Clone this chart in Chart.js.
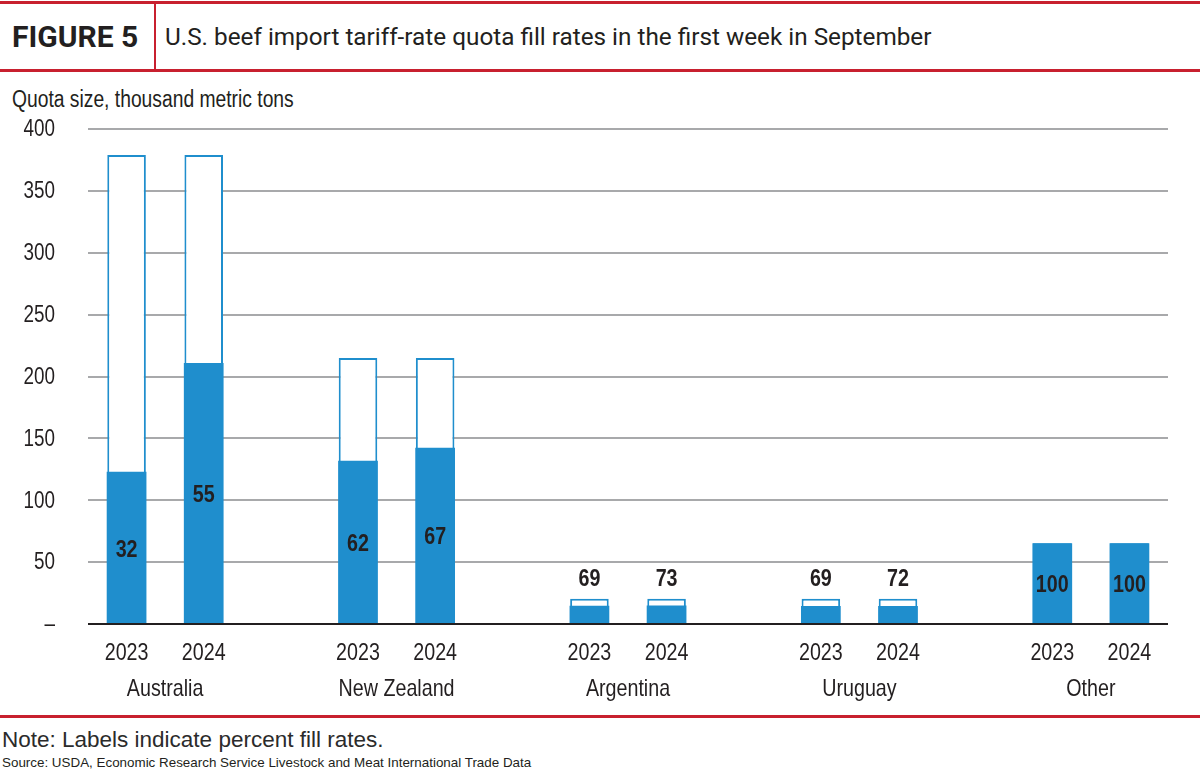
<!DOCTYPE html>
<html><head><meta charset="utf-8">
<script src="https://cdn.jsdelivr.net/npm/chart.js@4.4.1/dist/chart.umd.min.js"></script>
<style>
html,body{margin:0;padding:0;background:#fff;width:1200px;height:774px;overflow:hidden;position:relative;}
.rl{position:absolute;background:#c8202f;}
#hdrTop{left:0;top:1px;width:1200px;height:3px;}
#hdrBot{left:0;top:69px;width:1200px;height:3px;}
#hdrV{left:154px;top:1px;width:2px;height:71px;}
#footLine{left:0;top:715px;width:1200px;height:3px;}
#fig{position:absolute;left:12px;top:19px;font:bold 30px Roboto,sans-serif;color:#231f20;white-space:nowrap;}
#title{position:absolute;left:165px;top:22px;font:24.3px Roboto,sans-serif;color:#231f20;white-space:nowrap;}
#ytitle{position:absolute;left:12px;top:86px;font:23.5px 'Liberation Sans',sans-serif;color:#231f20;white-space:nowrap;transform:scaleX(0.82);transform-origin:0 0;}
#note{position:absolute;left:2px;top:727px;font:22.5px 'Liberation Sans',sans-serif;color:#2b2b2b;white-space:nowrap;}
#source{position:absolute;left:2px;top:755px;font:13.4px 'Liberation Sans',sans-serif;color:#231f20;white-space:nowrap;}
#wrap{position:absolute;left:0;top:80px;width:1200px;height:634px;}
</style>
</head>
<body>
<div class="rl" id="hdrTop"></div>
<div class="rl" id="hdrBot"></div>
<div class="rl" id="hdrV"></div>
<div id="fig">FIGURE 5</div>
<div id="title">U.S. beef import tariff-rate quota fill rates in the first week in September</div>
<div id="ytitle">Quota size, thousand metric tons</div>
<div id="wrap"><canvas id="c"></canvas></div>
<div class="rl" id="footLine"></div>
<div id="note">Note: Labels indicate percent fill rates.</div>
<div id="source">Source: USDA, Economic Research Service Livestock and Meat International Trade Data</div>
<script>
// ---- data ----
const countries = ['Australia', 'New Zealand', 'Argentina', 'Uruguay', 'Other'];
const years = ['2023', '2024'];
const quota2023 = [379, 215, 20.5, 20.5, 65.2];
const quota2024 = [379, 215, 20.5, 20.5, 65.2];
const filled2023 = [123, 132, 14.8, 14.5, 65.2];
const filled2024 = [211, 142.5, 15, 14.5, 65.2];
const fillRate2023 = [32, 62, 69, 69, 100];
const fillRate2024 = [55, 67, 73, 72, 100];
const yTicks = [0, 50, 100, 150, 200, 250, 300, 350, 400];

// ---- build slot arrays (two bars per country, blank spacer between groups) ----
const slotLabels = [], quotaSlots = [], filledSlots = [], rateSlots = [];
countries.forEach((c, g) => {
  slotLabels.push(years[0], years[1]);
  quotaSlots.push(quota2023[g], quota2024[g]);
  filledSlots.push(filled2023[g], filled2024[g]);
  rateSlots.push(fillRate2023[g], fillRate2024[g]);
  if (g < countries.length - 1) {
    slotLabels.push(''); quotaSlots.push(null); filledSlots.push(null); rateSlots.push(null);
  }
});

const BLUE = '#1f8ecd';
const DARK = '#231f20';
const FONT = "'Liberation Sans',Arial,sans-serif";
const SQUEEZE = 0.82; // emulate a narrow face

function narrowText(ctx, text, x, y, align, baseline) {
  ctx.save();
  ctx.translate(x, y);
  ctx.scale(SQUEEZE, 1);
  ctx.textAlign = align;
  ctx.textBaseline = baseline;
  ctx.fillText(text, 0, 0);
  ctx.restore();
}

const labelPlugin = {
  id: 'labels',
  afterDatasetsDraw(chart) {
    const ctx = chart.ctx;
    const x = chart.scales.x, y = chart.scales.y;
    const area = chart.chartArea;
    ctx.save();
    // zero line
    ctx.strokeStyle = DARK; ctx.lineWidth = 2;
    ctx.beginPath();
    ctx.moveTo(area.left, y.getPixelForValue(0));
    ctx.lineTo(area.right, y.getPixelForValue(0));
    ctx.stroke();
    ctx.fillStyle = DARK;
    // y tick labels
    ctx.font = '23px ' + FONT;
    yTicks.forEach(v => {
      narrowText(ctx, v === 0 ? '–' : String(v), 55, y.getPixelForValue(v) + 1, 'right', 'middle');
    });
    // x tick labels (years)
    ctx.font = '24px ' + FONT;
    slotLabels.forEach((l, i) => {
      if (l) narrowText(ctx, l, x.getPixelForValue(i), 573, 'center', 'middle');
    });
    // country names
    countries.forEach((c, g) => {
      const a = x.getPixelForValue(g * 3), b = x.getPixelForValue(g * 3 + 1);
      narrowText(ctx, c, (a + b) / 2, 609, 'center', 'middle');
    });
    // fill-rate labels
    ctx.font = 'bold 24px ' + FONT;
    rateSlots.forEach((r, i) => {
      if (r === null) return;
      const px = x.getPixelForValue(i);
      if (quotaSlots[i] < 40) {
        narrowText(ctx, String(r), px, y.getPixelForValue(quotaSlots[i]) - 13, 'center', 'alphabetic');
      } else {
        const mid = (y.getPixelForValue(0) + y.getPixelForValue(filledSlots[i])) / 2;
        narrowText(ctx, String(r), px, mid + 2, 'center', 'middle');
      }
    });
    ctx.restore();
  }
};

new Chart(document.getElementById('c'), {
  type: 'bar',
  data: {
    labels: slotLabels,
    datasets: [
      { label: 'Filled', data: filledSlots, backgroundColor: BLUE, borderWidth: 0,
        grouped: false, order: 0, barPercentage: 0.515, categoryPercentage: 1 },
      { label: 'Quota', data: quotaSlots, backgroundColor: '#ffffff', borderColor: BLUE, borderWidth: 2,
        grouped: false, order: 1, barPercentage: 0.5, categoryPercentage: 1 }
    ]
  },
  options: {
    responsive: true,
    maintainAspectRatio: false,
    animation: false,
    layout: { padding: { top: 49, right: 32, left: 0, bottom: 0 } },
    plugins: { legend: { display: false }, tooltip: { enabled: false }, title: { display: false } },
    scales: {
      x: {
        grid: { display: false, drawTicks: false },
        border: { display: false },
        ticks: { display: false, autoSkip: false, maxRotation: 0 },
        afterFit(s) { s.height = 90; }
      },
      y: {
        min: 0, max: 400,
        afterBuildTicks(s) { s.ticks = yTicks.map(v => ({ value: v })); },
        grid: { color: ctx => ctx.tick && ctx.tick.value === 0 ? DARK : '#a8a9ab', lineWidth: 2, drawTicks: false },
        border: { display: false },
        ticks: { display: false },
        afterFit(s) { s.width = 88; }
      }
    }
  },
  plugins: [labelPlugin]
});
</script>
</body></html>
